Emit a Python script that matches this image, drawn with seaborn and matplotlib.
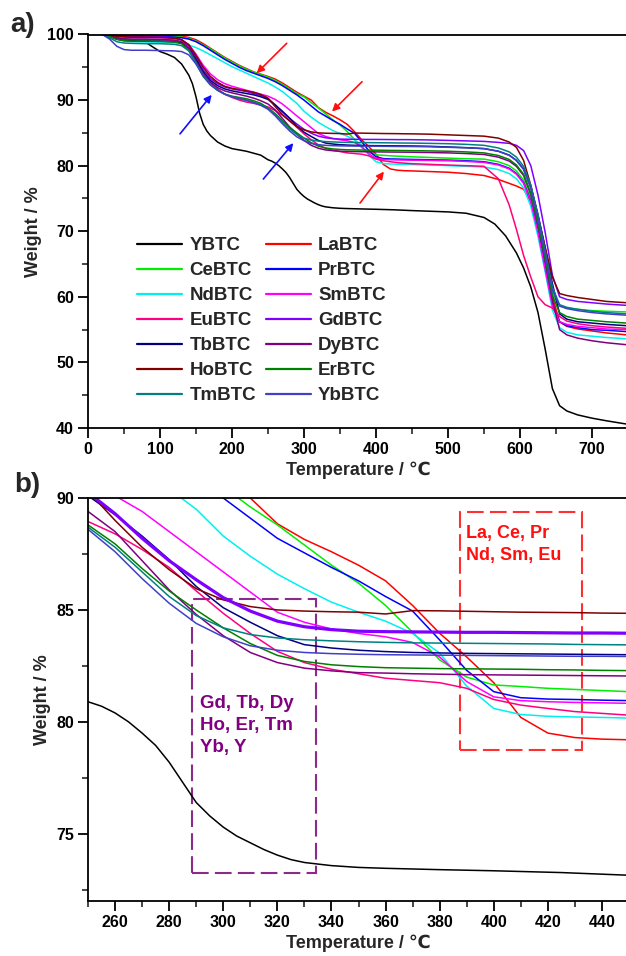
import matplotlib
matplotlib.use('Agg')
import numpy as np
import pandas as pd
import matplotlib.pyplot as plt
import seaborn as sns
from matplotlib.lines import Line2D
from matplotlib.patches import Rectangle
from matplotlib.ticker import MultipleLocator

# ---------------- data ----------------
temp = [20, 30, 40, 50, 60, 80, 100, 120, 130, 140, 150, 160, 170, 180, 190, 200, 210, 220, 230, 240,
        250, 260, 270, 280, 290, 300, 310, 320, 330, 340, 350, 360, 370, 380, 390, 400, 410, 420, 430, 440, 450,
        475, 500, 525, 550, 570, 585, 595, 605, 615, 625, 635, 645, 655, 665, 680, 700, 720, 748]

y_temp = [83, 90, 100, 110, 120, 130, 140, 145, 150, 155, 160, 165, 170, 180, 190, 200, 210, 220, 230, 240,
          250, 255, 260, 265, 270, 275, 280, 285, 290, 295, 300, 305, 310, 315, 320, 325, 330, 340, 350, 360,
          380, 400, 425, 450, 475, 500, 525, 550,
          565, 580, 595, 605, 615, 625, 635, 645, 655, 665, 680, 700, 720, 748]
y_w = [98.6, 98.1, 97.4, 97.0, 96.5, 95.5, 93.8, 92.5, 90.5, 88.0, 86.3, 85.3, 84.6, 83.6, 83.0, 82.6, 82.4, 82.2, 81.9, 81.6,
       80.9, 80.7, 80.4, 80.0, 79.5, 78.95, 78.2, 77.3, 76.4, 75.8, 75.3, 74.9, 74.6, 74.3, 74.05, 73.85, 73.72, 73.58, 73.5, 73.46,
       73.4, 73.35, 73.27, 73.15, 73.05, 72.95, 72.75, 72.1,
       71.1, 69.3, 66.7, 64.4, 61.5, 57.6, 52.0, 46.0, 43.4, 42.6, 42.0, 41.5, 41.1, 40.6]

la_w = [100, 100, 99.95, 99.9, 99.9, 99.85, 99.85, 99.8, 99.75, 99.55, 99.2, 98.6, 97.9, 97.2, 96.5, 95.9, 95.3, 94.8, 94.3, 93.95,
        93.6, 93.2, 92.6, 91.9, 91.2, 90.6, 90.0, 88.85, 88.15, 87.6, 87.0, 86.3, 85.2, 83.96, 82.9, 81.75, 80.2, 79.5, 79.3, 79.23, 79.2,
        79.1, 79.0, 78.8, 78.5, 77.9, 77.3, 76.9, 76.4, 74.5, 70.5, 65.5, 60.0, 56.2, 55.5, 55.1, 54.8, 54.5, 54.2]
ce_w = [100, 99.95, 99.9, 99.85, 99.8, 99.8, 99.75, 99.7, 99.6, 99.4, 99.0, 98.4, 97.8, 97.1, 96.4, 95.8, 95.2, 94.7, 94.25, 93.9,
        93.5, 93.0, 92.4, 91.7, 91.0, 90.5, 89.6, 88.8, 87.9, 87.0, 86.2, 85.2, 84.0, 82.77, 82.0, 81.65, 81.58, 81.5, 81.45, 81.4, 81.35,
        81.25, 81.15, 81.05, 81.0, 80.6, 80.0, 79.2, 77.8, 75.0, 70.5, 65.5, 60.5, 58.6, 58.3, 58.1, 57.9, 57.8, 57.7]
pr_w = [100, 99.95, 99.85, 99.8, 99.75, 99.7, 99.7, 99.6, 99.5, 99.3, 98.9, 98.3, 97.6, 96.9, 96.2, 95.6, 95.0, 94.5, 94.1, 93.7,
        93.3, 92.8, 92.2, 91.5, 90.8, 90.0, 89.1, 88.2, 87.55, 86.9, 86.3, 85.6, 84.95, 83.66, 82.3, 81.35, 81.08, 81.02, 81.0, 80.97, 80.95,
        80.9, 80.85, 80.75, 80.6, 80.2, 79.6, 78.8, 77.4, 74.6, 70.0, 64.5, 58.8, 56.2, 55.6, 55.3, 55.0, 54.9, 54.7]
nd_w = [100, 99.8, 99.3, 99.0, 98.9, 98.85, 98.8, 98.75, 98.65, 98.4, 98.0, 97.5, 96.9, 96.3, 95.7, 95.1, 94.6, 94.1, 93.6, 93.1,
        92.6, 92.0, 91.3, 90.4, 89.5, 88.3, 87.4, 86.6, 85.95, 85.35, 84.9, 84.5, 83.95, 83.07, 81.6, 80.6, 80.33, 80.25, 80.22, 80.2, 80.17,
        80.1, 80.0, 79.9, 79.8, 79.4, 78.8, 78.0, 76.6, 73.8, 69.2, 63.8, 58.0, 55.3, 54.6, 54.2, 54.0, 53.8, 53.6]
sm_w = [100, 99.9, 99.7, 99.6, 99.55, 99.5, 99.5, 99.4, 99.2, 98.5, 97.0, 95.3, 94.0, 93.1, 92.5, 92.1, 91.8, 91.5, 91.2, 90.9,
        90.6, 90.1, 89.4, 88.5, 87.6, 86.7, 85.8, 84.9, 84.45, 84.15, 83.95, 83.8, 83.55, 82.9, 81.8, 81.12, 80.95, 80.9, 80.87, 80.85, 80.83,
        80.8, 80.75, 80.65, 80.5, 80.1, 79.5, 78.7, 77.3, 74.5, 69.8, 64.2, 58.6, 56.2, 55.8, 55.5, 55.3, 55.1, 55.0]
eu_w = [100, 99.8, 99.5, 99.3, 99.25, 99.2, 99.2, 99.1, 98.9, 98.0, 96.2, 94.3, 92.8, 91.7, 90.9, 90.4, 90.0, 89.7, 89.5, 89.25,
        88.95, 88.4, 87.7, 86.9, 85.85, 84.85, 83.95, 83.15, 82.65, 82.35, 82.15, 81.95, 81.85, 81.75, 81.5, 81.0, 80.75, 80.6, 80.46, 80.38, 80.3,
        80.2, 80.1, 80.0, 79.9, 78.0, 74.0, 70.3, 66.3, 63.0, 60.0, 58.8, 58.3, 57.0, 56.3, 55.9, 55.6, 55.4, 55.2]
gd_w = [100, 99.95, 99.85, 99.75, 99.7, 99.7, 99.65, 99.5, 99.2, 98.3, 96.5, 94.6, 93.3, 92.5, 92.0, 91.7, 91.5, 91.3, 91.0, 90.7,
        90.25, 89.3, 88.2, 87.2, 86.35, 85.55, 84.95, 84.5, 84.25, 84.12, 84.05, 84.03, 84.02, 84.01, 84.0, 84.0, 83.99, 83.98, 83.97, 83.97, 83.96,
        83.92, 83.85, 83.78, 83.7, 83.55, 83.4, 83.1, 82.3, 80.0, 75.5, 69.8, 63.3, 60.0, 59.6, 59.3, 59.1, 58.9, 58.7]
tb_w = [100, 99.7, 99.3, 99.1, 99.05, 99.0, 99.0, 98.9, 98.7, 97.9, 96.2, 94.3, 93.0, 92.2, 91.7, 91.4, 91.2, 91.0, 90.8, 90.5,
        90.1, 89.25, 88.3, 87.25, 86.05, 85.1, 84.45, 83.85, 83.45, 83.3, 83.2, 83.14, 83.1, 83.08, 83.06, 83.05, 83.04, 83.03, 83.02, 83.01, 83.0,
        82.95, 82.85, 82.75, 82.6, 82.2, 81.6, 80.8, 79.5, 76.8, 72.5, 67.5, 62.0, 57.4, 56.6, 56.2, 56.0, 55.8, 55.6]
dy_w = [100, 99.85, 99.5, 99.35, 99.3, 99.3, 99.25, 99.15, 98.9, 97.9, 95.9, 94.0, 92.7, 91.9, 91.4, 91.1, 90.85, 90.6, 90.3, 89.9,
        89.4, 88.5, 87.2, 85.9, 84.8, 83.85, 83.1, 82.65, 82.4, 82.28, 82.2, 82.18, 82.15, 82.13, 82.11, 82.1, 82.09, 82.08, 82.07, 82.06, 82.05,
        82.0, 81.95, 81.85, 81.7, 81.3, 80.7, 79.9, 78.5, 75.6, 71.0, 65.5, 59.5, 55.0, 54.2, 53.7, 53.3, 53.0, 52.7]
ho_w = [100, 99.9, 99.75, 99.65, 99.6, 99.6, 99.55, 99.45, 99.2, 98.4, 96.8, 95.0, 93.6, 92.7, 92.1, 91.8, 91.6, 91.4, 91.2, 90.85,
        90.3, 89.0, 87.8, 86.8, 85.95, 85.45, 85.15, 85.0, 84.95, 84.92, 84.9, 84.82, 84.97, 84.96, 84.94, 84.92, 84.9, 84.89, 84.88, 84.86, 84.85,
        84.8, 84.7, 84.6, 84.5, 84.2, 83.6, 82.8, 80.8, 77.0, 72.3, 67.5, 63.0, 60.5, 60.2, 59.9, 59.6, 59.3, 59.1]
er_w = [100, 99.7, 99.25, 99.05, 99.0, 99.0, 98.95, 98.85, 98.6, 97.6, 95.6, 93.6, 92.3, 91.5, 90.9, 90.6, 90.4, 90.2, 89.9, 89.5,
        88.8, 87.95, 86.85, 85.85, 85.0, 84.2, 83.5, 82.97, 82.7, 82.55, 82.47, 82.42, 82.4, 82.38, 82.37, 82.36, 82.35, 82.33, 82.32, 82.3, 82.29,
        82.25, 82.2, 82.1, 81.95, 81.55, 80.95, 80.1, 78.7, 75.8, 71.2, 65.8, 60.2, 57.6, 57.0, 56.6, 56.4, 56.2, 56.0]
tm_w = [100, 99.5, 98.9, 98.7, 98.65, 98.6, 98.6, 98.5, 98.3, 97.5, 95.7, 93.8, 92.4, 91.5, 90.9, 90.5, 90.25, 90.0, 89.7, 89.3,
        88.7, 87.8, 86.7, 85.6, 84.75, 84.2, 83.9, 83.75, 83.67, 83.62, 83.58, 83.55, 83.53, 83.52, 83.51, 83.5, 83.49, 83.48, 83.46, 83.45, 83.44,
        83.4, 83.35, 83.25, 83.1, 82.7, 82.1, 81.3, 79.9, 77.0, 72.5, 67.0, 61.5, 58.8, 58.4, 58.1, 57.8, 57.6, 57.4]
yb_w = [100, 99.3, 98.2, 97.7, 97.6, 97.6, 97.55, 97.5, 97.4, 96.9, 95.5, 93.7, 92.4, 91.5, 90.9, 90.5, 90.2, 89.95, 89.6, 89.2,
        88.6, 87.6, 86.4, 85.3, 84.4, 83.8, 83.4, 83.2, 83.1, 83.05, 83.02, 83.0, 82.99, 82.98, 82.97, 82.96, 82.95, 82.94, 82.93, 82.93, 82.92,
        82.88, 82.8, 82.72, 82.6, 82.2, 81.6, 80.8, 79.4, 76.5, 72.0, 66.5, 61.0, 58.6, 58.2, 57.9, 57.6, 57.4, 57.2]

series_names = ['YBTC', 'LaBTC', 'CeBTC', 'PrBTC', 'NdBTC', 'SmBTC', 'EuBTC',
                'GdBTC', 'TbBTC', 'DyBTC', 'HoBTC', 'ErBTC', 'TmBTC', 'YbBTC']
series_colors = ['#000000', '#FF0000', '#00EE00', '#0000FF', '#00F0F0', '#FF00FF', '#FF0080',
                 '#8000FF', '#000080', '#800080', '#800000', '#008000', '#008080', '#4040C8']
legend_order = ['YBTC', 'CeBTC', 'NdBTC', 'EuBTC', 'TbBTC', 'HoBTC', 'TmBTC',
                'LaBTC', 'PrBTC', 'SmBTC', 'GdBTC', 'DyBTC', 'ErBTC', 'YbBTC']

weights = {'LaBTC': la_w, 'CeBTC': ce_w, 'PrBTC': pr_w, 'NdBTC': nd_w, 'SmBTC': sm_w, 'EuBTC': eu_w,
           'GdBTC': gd_w, 'TbBTC': tb_w, 'DyBTC': dy_w, 'HoBTC': ho_w, 'ErBTC': er_w, 'TmBTC': tm_w, 'YbBTC': yb_w}

frames = [pd.DataFrame({'T': y_temp, 'W': y_w, 'series': 'YBTC'})]
for name in series_names[1:]:
    frames.append(pd.DataFrame({'T': temp, 'W': weights[name], 'series': name}))
df = pd.concat(frames, ignore_index=True)
palette = dict(zip(series_names, series_colors))

# ---------------- style ----------------
sns.set_theme(style='ticks')
plt.rcParams['font.family'] = ['Liberation Sans', 'DejaVu Sans']
plt.rcParams['font.weight'] = 'bold'
plt.rcParams['axes.labelweight'] = 'bold'

W_PX, H_PX = 626, 956
fig = plt.figure(figsize=(W_PX / 100, H_PX / 100), dpi=100)
ax1 = fig.add_axes([88 / W_PX, 1 - 428 / H_PX, 540 / W_PX, (428 - 34.5) / H_PX])
ax2 = fig.add_axes([88 / W_PX, 1 - 901 / H_PX, 541 / W_PX, (901 - 498) / H_PX])

sns.lineplot(data=df, x='T', y='W', hue='series', hue_order=series_names, palette=palette,
             estimator=None, sort=False, lw=1.1, legend=False, ax=ax1)
df_b = df[df['series'] != 'GdBTC']
sns.lineplot(data=df_b, x='T', y='W', hue='series', hue_order=[s for s in series_names if s != 'GdBTC'],
             palette=palette, estimator=None, sort=False, lw=1.1, legend=False, ax=ax2)
sns.lineplot(data=df[df['series'] == 'GdBTC'], x='T', y='W', color=palette['GdBTC'],
             estimator=None, sort=False, lw=2.3, legend=False, ax=ax2)

for ax in (ax1, ax2):
    for sp in ax.spines.values():
        sp.set_visible(True)
        sp.set_linewidth(1.3)
        sp.set_color('black')
    ax.tick_params(which='major', direction='out', length=7, width=1.3, labelsize=11.5, pad=3,
                   colors='black', top=False, right=False)
    ax.tick_params(which='minor', direction='out', length=4, width=1.2, top=False, right=False)
    ax.set_xlabel('Temperature / \u2103', fontsize=13, fontweight='bold', labelpad=3)
    ax.set_ylabel('Weight / %', fontsize=13, fontweight='bold', labelpad=4)
    ax.set_facecolor('white')
    ax.grid(False)

ax1.set_xlim(0, 750)
ax1.set_ylim(40, 100)
ax1.set_xticks(np.arange(0, 701, 100))
ax1.set_yticks(np.arange(40, 101, 10))
ax1.xaxis.set_minor_locator(MultipleLocator(50))
ax1.yaxis.set_minor_locator(MultipleLocator(5))

ax2.set_xlim(250, 450)
ax2.set_ylim(72, 90)
ax2.set_xticks(np.arange(260, 441, 20))
ax2.set_yticks([75, 80, 85, 90])
ax2.xaxis.set_minor_locator(MultipleLocator(10))
ax2.yaxis.set_minor_locator(MultipleLocator(2.5))

# arrows in panel a
arrow_kw = dict(arrowstyle='-|>', lw=1.2, mutation_scale=11, shrinkA=0, shrinkB=0)
for (tail, head) in [((276, 98.66), (234.3, 94.1)), ((380.6, 92.8), (338.9, 88.25)), ((377.8, 74.3), (411, 79.1))]:
    ax1.annotate('', xy=head, xytext=tail, arrowprops=dict(color='#FF1010', **arrow_kw))
for (tail, head) in [((127.8, 84.85), (171.8, 90.8)), ((243.5, 77.96), (285.2, 83.44))]:
    ax1.annotate('', xy=head, xytext=tail, arrowprops=dict(color='#1010FF', **arrow_kw))

# legend
handles = [Line2D([0], [0], color=palette[n], lw=1.6) for n in legend_order]
fig.legend(handles, legend_order, ncol=2, loc='upper left',
           bbox_to_anchor=(137 / W_PX, 1 - 237 / H_PX), bbox_transform=fig.transFigure,
           frameon=False, handlelength=2.4, handletextpad=0.4,
           columnspacing=0.5, labelspacing=0.42, borderpad=0, borderaxespad=0,
           prop={'weight': 'bold', 'size': 13.5})

# dashed boxes in panel b
ax2.add_patch(Rectangle((288.4, 73.27), 334.3 - 288.4, 85.5 - 73.27, fill=False,
                        ec='#8B2A8B', lw=1.5, ls=(0, (8, 3))))
ax2.add_patch(Rectangle((387.5, 78.75), 432.6 - 387.5, 89.39 - 78.75, fill=False,
                        ec='#FF3030', lw=1.5, ls=(0, (8, 3))))
ax2.text(291.3, 81.2, 'Gd, Tb, Dy\nHo, Er, Tm\nYb, Y', ha='left', va='top', fontsize=13.5,
         fontweight='bold', color='#800080', linespacing=1.4)
ax2.text(389.7, 88.8, 'La, Ce, Pr\nNd, Sm, Eu', ha='left', va='top', fontsize=13,
         fontweight='bold', color='#FF1010', linespacing=1.4)

fig.text(10 / W_PX, 1 - 25 / H_PX, 'a)', fontsize=20, fontweight='bold', ha='left', va='center')
fig.text(14 / W_PX, 1 - 485 / H_PX, 'b)', fontsize=20, fontweight='bold', ha='left', va='center')

fig.savefig('out.png', dpi=100, facecolor='white')
